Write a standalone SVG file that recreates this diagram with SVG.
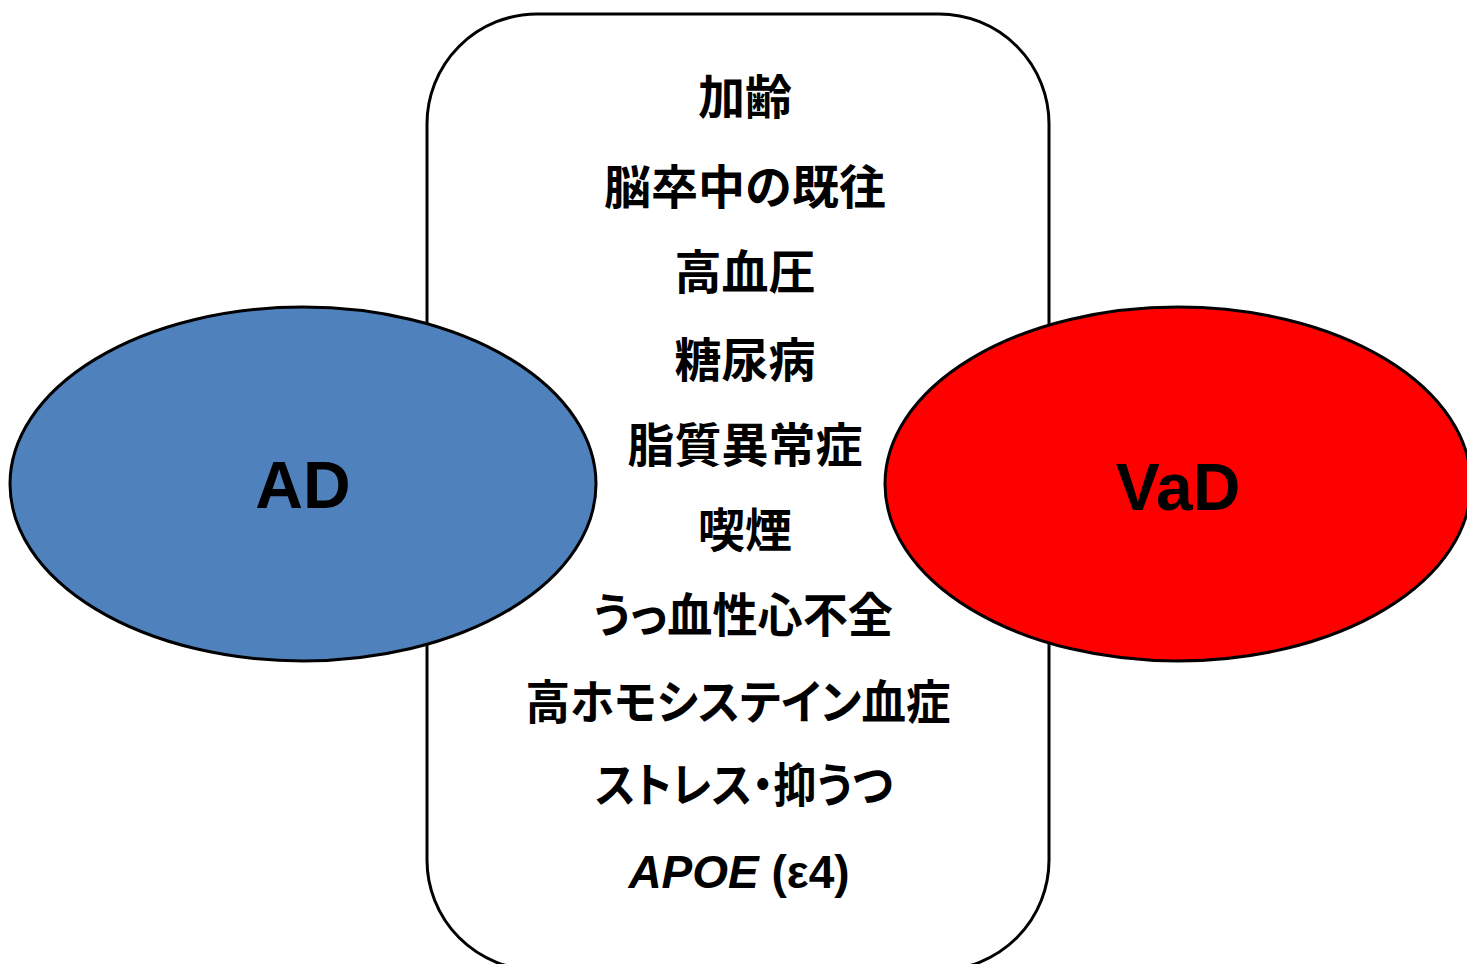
<svg xmlns="http://www.w3.org/2000/svg" width="1467" height="964" viewBox="0 0 1467 964">
<style>
.jp{font-family:"Noto Sans CJK JP","Noto Sans CJK SC",sans-serif;font-weight:bold;font-size:47px;fill:#000;text-anchor:middle}
.kana{font-feature-settings:"palt"}
.lbl{font-family:"Liberation Sans",Arial,sans-serif;font-weight:bold;font-size:66px;fill:#000;text-anchor:middle}
.shape{stroke:#000;stroke-width:3}
</style>
<rect width="1467" height="964" fill="#fff"/>
<g id="factors">
<rect class="shape" x="427" y="14" width="622" height="956" rx="110" ry="110" fill="#fff"/>
</g>
<g id="AD">
<ellipse class="shape" cx="303" cy="484" rx="293" ry="177" fill="#4F81BD"/>
<text class="lbl" x="303" y="508">AD</text>
</g>
<g id="VaD">
<ellipse class="shape" cx="1178" cy="484" rx="293" ry="177" fill="#FF0000"/>
<text class="lbl" x="1178" y="510">VaD</text>
</g>
<g id="factor-list">
<text class="jp" x="745" y="114">加齢</text>
<text class="jp" x="745" y="204">脳卒中の既往</text>
<text class="jp" x="745" y="289">高血圧</text>
<text class="jp" x="745" y="377">糖尿病</text>
<text class="jp" x="745" y="462">脂質異常症</text>
<text class="jp" x="745" y="547">喫煙</text>
<text class="jp kana" x="743" y="632" textLength="300" lengthAdjust="spacingAndGlyphs">うっ血性心不全</text>
<text class="jp kana" x="738" y="719" textLength="425" lengthAdjust="spacingAndGlyphs">高ホモシステイン血症</text>
<text class="jp kana" x="744" y="802" textLength="298" lengthAdjust="spacingAndGlyphs">ストレス・抑うつ</text>
<text x="739" y="888" style="font-family:'Liberation Sans',Arial,sans-serif;font-weight:bold;font-size:46px;text-anchor:middle;fill:#000"><tspan font-style="italic">APOE</tspan> (ε4)</text>
</g>
<g id="connectors"/>
</svg>
